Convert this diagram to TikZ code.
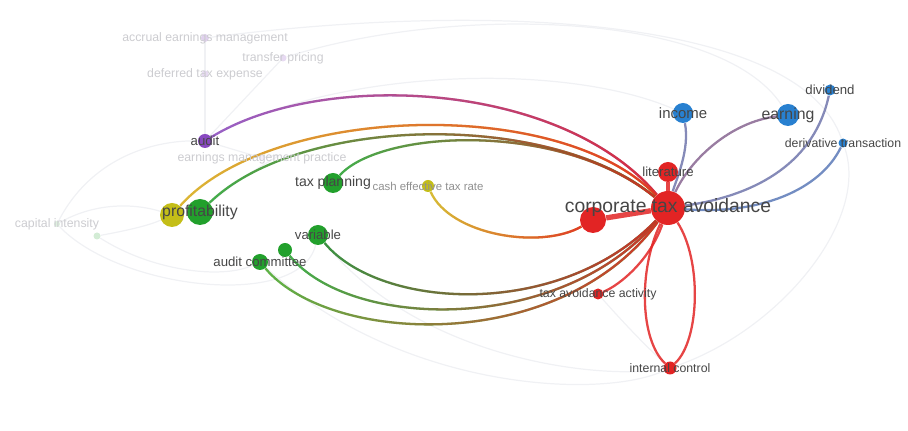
\documentclass[tikz,border=0pt]{standalone}
\usepackage{fontspec}
\setmainfont{Liberation Sans}
\usetikzlibrary{backgrounds,fadings}
\definecolor{vosred}{RGB}{226,36,36}
\definecolor{vosgreen}{RGB}{34,160,44}
\definecolor{vosblue}{RGB}{40,128,208}
\definecolor{vosyellow}{RGB}{196,190,24}
\definecolor{vospurple}{RGB}{136,72,192}
\definecolor{labdark}{RGB}{70,70,70}
\definecolor{labfaint}{RGB}{204,204,208}
\definecolor{edgeblue}{RGB}{112,118,172}
\definecolor{edgefaint}{RGB}{240,241,244}
\tikzset{
  vtx/.style={circle,fill=#1,inner sep=0pt},
  sz/.style={minimum size=#1*0.02cm},
  lbl/.style={text=labdark,font=\fontsize{#1}{#1}\selectfont,inner sep=0pt},
  flbl/.style={text=labfaint,font=\fontsize{#1}{#1}\selectfont,inner sep=0pt},
  link/.style={line width=1.3pt,opacity=0.85},
  faint/.style={line width=0.7pt,draw=edgefaint}
}
\newcommand{\Link}[5]{%
  \draw[link,#1] (#2) .. controls #3 and #4 .. (#5);
  \draw[link,vosred,path fading=west] (#2) .. controls #3 and #4 .. (#5);}

\begin{document}
\begin{tikzpicture}[x=0.02cm,y=-0.02cm]
\useasboundingbox (0,0) rectangle (908,431);

\node[vtx=vospurple!25,sz=8,label={[flbl=7]center:accrual earnings management}] (aem) at (205,38) {};
\node[vtx=vospurple!20,sz=7,label={[flbl=7]center:transfer pricing}] (tpr) at (283,58) {};
\node[vtx=vospurple!20,sz=7,label={[flbl=7]center:deferred tax expense}] (dte) at (205,74) {};
\node[vtx=vospurple,sz=14,label={[lbl=7.5]center:audit}] (aud) at (205,141) {};
\node[vtx=vospurple!10,sz=5,label={[flbl=7]center:earnings management practice}] (emp) at (262,158) {};
\node[vtx=vosgreen!15,sz=6,label={[flbl=7]center:capital intensity}] (ci) at (57,224) {};
\node[vtx=vosgreen!20,sz=7] (cig) at (97,236) {};
\node[vtx=vosyellow,sz=24] (profy) at (172,215) {};
\node[vtx=vosgreen,sz=26,label={[lbl=9]center:profitability}] (prof) at (200,212) {};
\node[vtx=vosgreen,sz=20,label={[lbl=8]center:tax planning}] (tp) at (333,183) {};
\node[vtx=vosyellow,sz=12,label={[flbl=6.5,text=labdark!60]center:cash effective tax rate}] (cetr) at (428,186) {};
\node[vtx=vosgreen,sz=20,label={[lbl=7.5]center:variable}] (var) at (318,235) {};
\node[vtx=vosgreen,sz=14] (gsm) at (285,250) {};
\node[vtx=vosgreen,sz=16,label={[lbl=7.5]center:audit committee}] (ac) at (260,262) {};
\node[vtx=vosred,sz=26] (red2) at (593,220) {};
\node[vtx=vosred,sz=20,label={[lbl=7.5]center:literature}] (lit) at (668,172) {};
\node[vtx=vosred,sz=34,label={[lbl=11]center:corporate tax avoidance}] (cta) at (668,208) {};
\node[vtx=vosred,sz=11,label={[lbl=7]center:tax avoidance activity}] (taa) at (598,294) {};
\node[vtx=vosred,sz=13,label={[lbl=7]center:internal control}] (ic) at (670,368) {};
\node[vtx=vosblue,sz=20,label={[lbl=8.5]center:income}] (inc) at (683,113) {};
\node[vtx=vosblue,sz=22,label={[lbl=9]center:earning}] (earn) at (788,115) {};
\node[vtx=vosblue,sz=11,label={[lbl=7.5]center:dividend}] (div) at (830,90) {};
\node[vtx=vosblue,sz=9,label={[lbl=7]center:derivative transaction}] (der) at (843,143) {};

\begin{pgfonlayer}{background}
\draw[faint] (inc) .. controls (560,60) and (330,70) .. (aud);
\draw[faint] (tpr) .. controls (450,5) and (720,10) .. (earn);
\draw[faint] (aem) .. controls (500,0) and (800,20) .. (der);
\draw[faint] (ac) .. controls (400,390) and (600,400) .. (ic);
\draw[faint] (var) .. controls (420,360) and (600,380) .. (ic);
\draw[faint] (taa) .. controls (630,330) and (650,350) .. (ic);
\draw[faint] (der) .. controls (870,220) and (780,330) .. (ic);
\draw[faint] (aem) -- (aud);
\draw[faint] (dte) -- (aud);
\draw[faint] (tpr) -- (aud);
\draw[faint] (aud) -- (emp);
\draw[faint] (ci) .. controls (90,160) and (150,140) .. (aud);
\draw[faint] (ci) .. controls (100,200) and (140,205) .. (profy);
\draw[faint] (cig) .. controls (150,270) and (220,280) .. (ac);
\draw[faint] (cig) .. controls (130,230) and (150,225) .. (profy);
\draw[faint] (ci) .. controls (120,290) and (300,310) .. (var);
\draw[faint] (prof) .. controls (260,160) and (300,150) .. (emp);

\draw[link,edgeblue] (inc) .. controls (690,150) and (676,180) .. (cta);
\draw[link,edgeblue!80!vosred] (earn) .. controls (730,122) and (690,160) .. (cta);
\draw[link,edgeblue] (div) .. controls (815,160) and (760,195) .. (cta);
\draw[link,edgeblue!70!vosblue] (der) .. controls (820,190) and (760,215) .. (cta);

\Link{vospurple}{aud}{(320,70)}{(560,80)}{cta}
\Link{vosyellow!70!orange}{profy}{(270,105)}{(560,95)}{cta}
\Link{vosgreen}{prof}{(300,115)}{(550,110)}{cta}
\Link{vosgreen}{tp}{(380,130)}{(560,120)}{cta}
\Link{vosyellow!80!orange}{cetr}{(450,235)}{(540,250)}{red2}
\Link{vosgreen!80!black}{var}{(380,310)}{(560,320)}{cta}
\Link{vosgreen}{gsm}{(350,330)}{(560,335)}{cta}
\Link{vosgreen!80!vosyellow}{ac}{(330,345)}{(560,355)}{cta}

\draw[link,vosred,line width=3pt] (red2) -- (cta);
\draw[link,vosred,line width=2pt] (lit) -- (cta);
\draw[link,vosred] (cta) .. controls (650,260) and (620,285) .. (taa);
\draw[link,vosred] (cta) .. controls (638,270) and (640,340) .. (ic);
\draw[link,vosred] (cta) .. controls (702,260) and (700,340) .. (ic);
\end{pgfonlayer}
\end{tikzpicture}
\end{document}
